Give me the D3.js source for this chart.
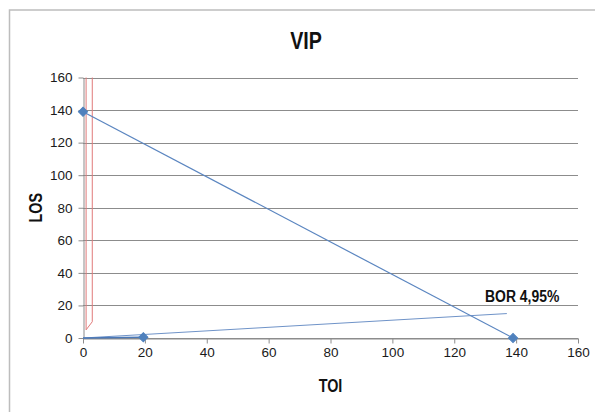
<!DOCTYPE html>
<html>
<head>
<meta charset="utf-8">
<script src="https://cdn.jsdelivr.net/npm/d3@7"></script>
<style>
  html, body { margin: 0; padding: 0; background: #fff; }
  svg { display: block; }
  .tick text { font-family: "Liberation Sans", Arial, sans-serif; font-size: 13.5px; fill: #1a1a1a; }
  .bold { font-family: "Liberation Sans", Arial, sans-serif; font-weight: bold; fill: #111; }
</style>
</head>
<body>
<svg id="chart" width="595" height="412"></svg>
<script>
// Chart data
const xTicks = [0, 20, 40, 60, 80, 100, 120, 140, 160];
const yTicks = [0, 20, 40, 60, 80, 100, 120, 140, 160];
const losToiLine = [[0, 139], [139, 0]];        // LOS–TOI line with markers at both ends
const borPoints = [[0, 0], [19.5, 0.5]];        // marked point near the origin
const borMarkers = [[19.5, 0.5]];
const borLine = [[0, 0], [137, 15]];            // BOR 4,95% line
const redOutline = [[1, 160], [1, 5], [3, 10], [3, 160]];
const titleText = "VIP";
const xTitle = "TOI";
const yTitle = "LOS";
const borLabel = "BOR 4,95%";

const svg = d3.select("#chart");
const narrow = 0.82; // horizontal squeeze for the condensed bold labels

// outer chart frame
svg.append("rect")
  .attr("x", 9.5).attr("y", 10)
  .attr("width", 700).attr("height", 500)
  .attr("fill", "none").attr("stroke", "#bdbdbd").attr("stroke-width", 1.5);

const x = d3.scaleLinear().domain([0, 160]).range([83, 578]);
const y = d3.scaleLinear().domain([0, 160]).range([338, 77.5]);

// horizontal gridlines
svg.append("g")
  .selectAll("line")
  .data(yTicks)
  .join("line")
  .attr("x1", x(0)).attr("x2", x(160))
  .attr("y1", d => Math.round(y(d)) + 0.5).attr("y2", d => Math.round(y(d)) + 0.5)
  .attr("stroke", "#8c8c8c").attr("stroke-width", 1);

// axes
const xAxis = svg.append("g")
  .attr("transform", `translate(0,${Math.round(y(0)) + 0.5})`)
  .call(d3.axisBottom(x).tickValues(xTicks).tickSize(5).tickSizeOuter(0).tickPadding(4));
const yAxis = svg.append("g")
  .attr("transform", `translate(${Math.round(x(0)) + 0.5},0)`)
  .call(d3.axisLeft(y).tickValues(yTicks).tickSize(5).tickSizeOuter(0).tickPadding(6));
[xAxis, yAxis].forEach(g => {
  g.select(".domain").attr("stroke", "#8c8c8c");
  g.selectAll(".tick line").attr("stroke", "#8c8c8c");
  g.selectAll(".tick text").attr("font-family", null).attr("font-size", null);
});

const line = d3.line().x(d => x(d[0])).y(d => y(d[1]));

// red outline near the LOS axis
svg.append("path")
  .attr("d", line(redOutline))
  .attr("fill", "none").attr("stroke", "#e07a7a").attr("stroke-width", 1);

// blue series
svg.append("path")
  .attr("d", line(borLine))
  .attr("fill", "none").attr("stroke", "#6f93c8").attr("stroke-width", 1);
svg.append("path")
  .attr("d", line(losToiLine))
  .attr("fill", "none").attr("stroke", "#5b86c0").attr("stroke-width", 1.2);
svg.append("path")
  .attr("d", line(borPoints))
  .attr("fill", "none").attr("stroke", "#4a78b8").attr("stroke-width", 1.5);

const diamond = d3.symbol().type(d3.symbolSquare).size(42);
svg.append("g")
  .selectAll("path")
  .data(losToiLine.concat(borMarkers))
  .join("path")
  .attr("d", diamond)
  .attr("transform", d => `translate(${x(d[0])},${y(d[1])}) rotate(45)`)
  .attr("fill", "#4f81bd").attr("stroke", "#4f81bd").attr("stroke-width", 1);

// texts
function boldText(tx, ty, rot, size, anchor, str) {
  svg.append("text").attr("class", "bold")
    .attr("transform", `translate(${tx},${ty}) rotate(${rot}) scale(${narrow},1)`)
    .attr("text-anchor", anchor).attr("font-size", size)
    .text(str);
}
boldText(306, 49, 0, 24, "middle", titleText);
boldText((x(0) + x(160)) / 2, 392, 0, 17.5, "middle", xTitle);
boldText(41.5, (y(0) + y(160)) / 2, -90, 17.5, "middle", yTitle);
boldText(485, 301.5, 0, 17, "start", borLabel);
</script>
</body>
</html>
